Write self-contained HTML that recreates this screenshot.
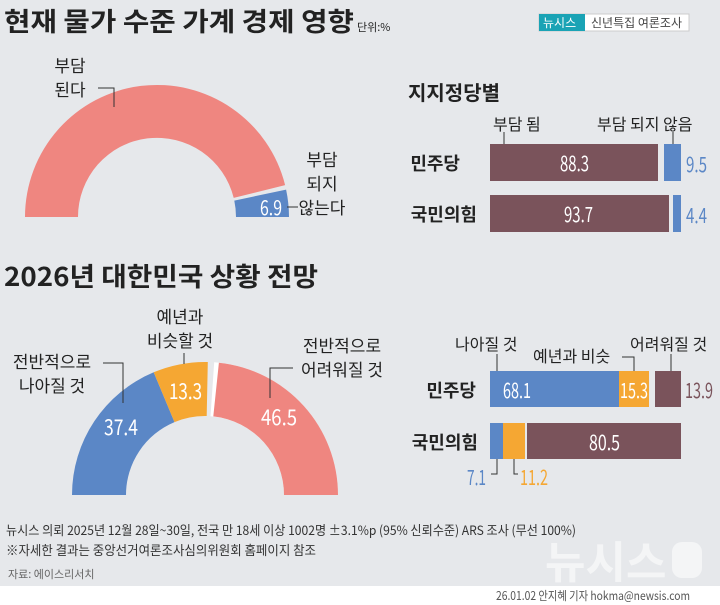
<!DOCTYPE html>
<html><head><meta charset="utf-8"><style>
html,body{margin:0;padding:0;background:#e6e8eb;}
svg{display:block;font-family:"Liberation Sans","Noto Sans CJK KR",sans-serif;}
</style></head><body>
<svg width="720" height="605" viewBox="0 0 720 605" xmlns="http://www.w3.org/2000/svg">
<rect width="720" height="605" fill="#e6e8eb"/>
<rect y="586" width="720" height="19" fill="#fff"/>
<!-- watermark -->
<text x="545" y="578" font-size="44" font-weight="bold" fill="#f4f5f6" font-family="Noto Sans CJK KR, sans-serif">뉴시스</text>
<rect x="672" y="542" width="30" height="36" rx="10" fill="#f4f5f6"/>

<!-- title 1 -->
<text x="4" y="31" font-size="26" font-weight="bold" fill="#222" font-family="Noto Sans CJK KR, sans-serif" textLength="350" lengthAdjust="spacingAndGlyphs">현재 물가 수준 가계 경제 영향</text>
<text x="357" y="31" font-size="11" fill="#222" font-family="Noto Sans CJK KR, sans-serif">단위:%</text>
<!-- badge -->
<rect x="539" y="14" width="150" height="17" fill="#fff" stroke="#ccc"/>
<rect x="539" y="14" width="46" height="17" fill="#1aa3b5"/>
<text x="543" y="27" font-size="12" fill="#fff" font-family="Noto Sans CJK KR, sans-serif">뉴시스</text>
<text x="591" y="27" font-size="12" fill="#444" font-family="Noto Sans CJK KR, sans-serif">신년특집 여론조사</text>

<!-- donut 1 -->
<path d="M25 217 A132 132 0 0 1 285.1 185.1 L233.7 197.9 A79 79 0 0 0 78 217 Z" fill="#ef8680"/>
<path d="M286.1 189.6 A132 132 0 0 1 289 217 L236 217 A79 79 0 0 0 234.3 200.6 Z" fill="#5b87c6"/>
<text x="260" y="215" font-size="20" fill="#fff" font-family="Noto Sans CJK KR, sans-serif" textLength="22" lengthAdjust="spacingAndGlyphs">6.9</text>
<line x1="287" y1="207" x2="298" y2="207" stroke="#333"/>
<g font-size="17" fill="#222" font-family="Noto Sans CJK KR, sans-serif" text-anchor="middle">
<text x="70" y="72">부담</text><text x="70" y="96">된다</text>
<text x="322" y="166">부담</text><text x="322" y="190">되지</text><text x="322" y="214">않는다</text>
</g>
<polyline points="98,88 114,88 114,107" fill="none" stroke="#333"/>

<!-- party bars 1 -->
<text x="408" y="100" font-size="20" font-weight="bold" fill="#222" font-family="Noto Sans CJK KR, sans-serif">지지정당별</text>
<g font-size="16" fill="#222" font-family="Noto Sans CJK KR, sans-serif">
<text x="493" y="130">부담 됨</text><text x="597" y="130">부담 되지 않음</text>
</g>
<line x1="504" y1="132" x2="504" y2="152" stroke="#333"/>
<line x1="673" y1="132" x2="673" y2="150" stroke="#333"/>
<rect x="490" y="144" width="168" height="37" fill="#7a535b"/>
<rect x="664" y="144" width="17" height="37" fill="#5b87c6"/>
<rect x="490" y="195" width="179" height="37" fill="#7a535b"/>
<rect x="673" y="195" width="8" height="37" fill="#5b87c6"/>
<g font-size="21" font-family="Noto Sans CJK KR, sans-serif">
<text x="560" y="171" fill="#fff" textLength="29" lengthAdjust="spacingAndGlyphs">88.3</text>
<text x="564" y="222" fill="#fff" textLength="29" lengthAdjust="spacingAndGlyphs">93.7</text>
<text x="686" y="172" fill="#5b87c6" textLength="21" lengthAdjust="spacingAndGlyphs">9.5</text>
<text x="686" y="223" fill="#5b87c6" textLength="21" lengthAdjust="spacingAndGlyphs">4.4</text>
</g>
<g font-size="18" font-family="Noto Sans CJK KR, sans-serif">
<text x="460" y="170" fill="#222" font-weight="bold" text-anchor="end">민주당</text>
<text x="477" y="221" fill="#222" font-weight="bold" text-anchor="end">국민의힘</text>
</g>

<!-- title 2 -->
<text x="4" y="286" font-size="26" font-weight="bold" fill="#222" font-family="Noto Sans CJK KR, sans-serif" textLength="314" lengthAdjust="spacingAndGlyphs">2026년 대한민국 상황 전망</text>

<!-- donut 2 -->
<path d="M72 495 A133 133 0 0 1 153.7 372.3 L174.5 422.1 A79 79 0 0 0 126 495 Z" fill="#5b87c6"/>
<path d="M153.7 372.3 A133 133 0 0 1 207.8 362.0 L206.7 416.0 A79 79 0 0 0 174.5 422.1 Z" fill="#f5a733"/>
<path d="M214.2 362.3 A133 133 0 0 1 338 495 L284 495 A79 79 0 0 0 210.5 416.2 Z" fill="#fff"/>
<path d="M218.9 362.7 A133 133 0 0 1 338 495 L284 495 A79 79 0 0 0 213.3 416.4 Z" fill="#ef8680"/>
<g font-size="22" fill="#fff" font-family="Noto Sans CJK KR, sans-serif">
<text x="104" y="435" textLength="34" lengthAdjust="spacingAndGlyphs">37.4</text>
<text x="169" y="399" textLength="33" lengthAdjust="spacingAndGlyphs">13.3</text>
<text x="261" y="425" textLength="36" lengthAdjust="spacingAndGlyphs">46.5</text>
</g>
<g font-size="17" fill="#222" font-family="Noto Sans CJK KR, sans-serif" text-anchor="middle">
<text x="180" y="323">예년과</text><text x="180" y="347">비슷할 것</text>
<text x="52" y="368">전반적으로</text><text x="52" y="392">나아질 것</text>
<text x="342" y="352">전반적으로</text><text x="342" y="376">어려워질 것</text>
</g>
<line x1="184" y1="353" x2="184" y2="364" stroke="#333"/>
<polyline points="103,363 123,363 123,403" fill="none" stroke="#333"/>
<polyline points="293,368 270,368 270,398" fill="none" stroke="#333"/>

<!-- party bars 2 -->
<g font-size="16" fill="#222" font-family="Noto Sans CJK KR, sans-serif">
<text x="455" y="350">나아질 것</text><text x="533" y="362">예년과 비슷</text><text x="630" y="350">어려워질 것</text>
</g>
<line x1="497" y1="354" x2="497" y2="378" stroke="#333"/>
<polyline points="622,357 634,357 634,378" fill="none" stroke="#333"/>
<line x1="671" y1="354" x2="671" y2="378" stroke="#333"/>
<rect x="490" y="371" width="129" height="36" fill="#5b87c6"/>
<rect x="619" y="371" width="30" height="36" fill="#f5a733"/>
<rect x="655" y="371" width="26" height="36" fill="#7a535b"/>
<rect x="490" y="423" width="13" height="36" fill="#5b87c6"/>
<rect x="503" y="423" width="22" height="36" fill="#f5a733"/>
<rect x="527" y="423" width="154" height="36" fill="#7a535b"/>
<polyline points="497,459 497,474 491,474" fill="none" stroke="#333"/>
<polyline points="514,459 514,474 518,474" fill="none" stroke="#333"/>
<g font-size="21" font-family="Noto Sans CJK KR, sans-serif">
<text x="503" y="398" fill="#fff" textLength="28" lengthAdjust="spacingAndGlyphs">68.1</text>
<text x="620" y="398" fill="#fff" textLength="28" lengthAdjust="spacingAndGlyphs">15.3</text>
<text x="589" y="450" fill="#fff" textLength="31" lengthAdjust="spacingAndGlyphs">80.5</text>
<text x="685" y="398" fill="#7a535b" textLength="28" lengthAdjust="spacingAndGlyphs">13.9</text>
<text x="467" y="485" fill="#5b87c6" textLength="19" lengthAdjust="spacingAndGlyphs">7.1</text>
<text x="520" y="485" fill="#f5a733" textLength="28" lengthAdjust="spacingAndGlyphs">11.2</text>
</g>
<g font-size="18" font-family="Noto Sans CJK KR, sans-serif">
<text x="476" y="397" fill="#222" font-weight="bold" text-anchor="end">민주당</text>
<text x="478" y="449" fill="#222" font-weight="bold" text-anchor="end">국민의힘</text>
</g>

<!-- footer -->
<g font-family="Noto Sans CJK KR, sans-serif" fill="#333">
<text x="6" y="535" font-size="13" textLength="570" lengthAdjust="spacingAndGlyphs">뉴시스 의뢰 2025년 12월 28일~30일, 전국 만 18세 이상 1002명 ±3.1%p (95% 신뢰수준) ARS 조사 (무선 100%)</text>
<text x="6" y="555" font-size="13" textLength="310" lengthAdjust="spacingAndGlyphs">※자세한 결과는 중앙선거여론조사심의위원회 홈페이지 참조</text>
<text x="8" y="578" font-size="11" fill="#666">자료: 에이스리서치</text>
<text x="690" y="600" font-size="12" fill="#555" text-anchor="end" textLength="194" lengthAdjust="spacingAndGlyphs">26.01.02 안지혜 기자 hokma@newsis.com</text>
</g>
</svg>
</body></html>
